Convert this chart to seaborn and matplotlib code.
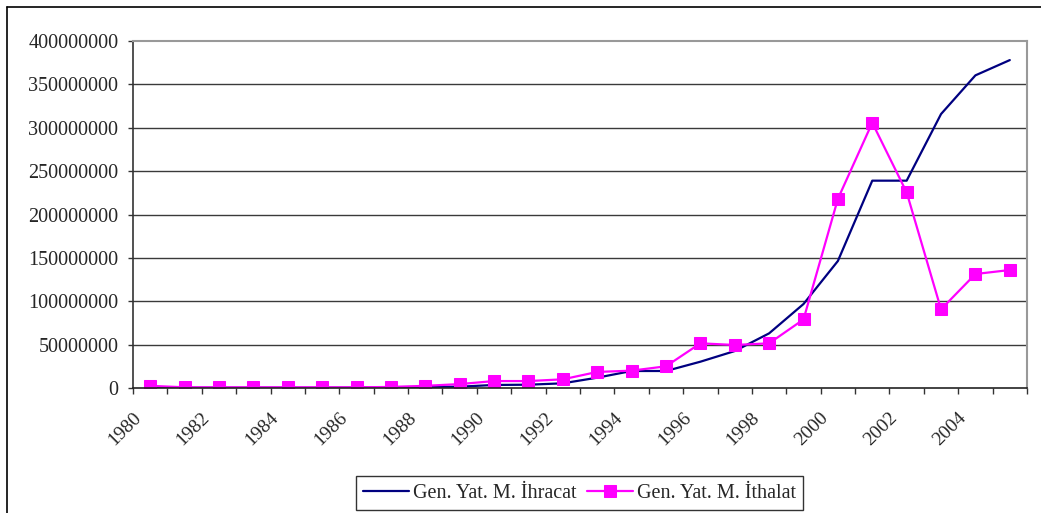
import pandas as pd
import seaborn as sns
import matplotlib.pyplot as plt
import matplotlib.transforms as mtransforms
from matplotlib.lines import Line2D


years = list(range(1980, 2006))

# Gen. Yat. M. exports (blue line)
ihracat = [0.5e6, 0.3e6, 0.3e6, 0.3e6, 0.3e6, 0.3e6, 0.4e6, 1.0e6, 1.2e6, 1.5e6,
           3.5e6, 3.8e6, 5.4e6, 11.9e6, 19.6e6, 19.6e6, 30.3e6, 42.6e6, 63e6, 96.8e6,
           146.4e6, 239e6, 239e6, 315.8e6, 360.4e6, 378e6]

# Gen. Yat. M. imports (magenta squares)
ithalat = [2.5e6, 0.8e6, 0.8e6, 0.8e6, 0.8e6, 0.8e6, 0.8e6, 1.2e6, 2.5e6, 4.5e6,
           8e6, 8e6, 10e6, 18.5e6, 20e6, 25e6, 51.5e6, 49.6e6, 51.5e6, 79e6,
           218e6, 305.8e6, 225.5e6, 90.7e6, 131.4e6, 136e6]

label_ihr = 'Gen. Yat. M. İhracat'
label_ith = 'Gen. Yat. M. İthalat'

sns.set_style('white')
plt.rcParams['font.family'] = ['Liberation Serif', 'DejaVu Serif']
FS = 14.5

fig = plt.figure(figsize=(10.41, 5.13), dpi=100)
ax = fig.add_axes([133 / 1041, 1 - 388 / 513, (1027 - 133) / 1041, (388 - 41) / 513])

df = pd.DataFrame({'year': years, 'ihracat': ihracat, 'ithalat': ithalat})

sns.lineplot(data=df, x='year', y='ihracat', ax=ax, color='#000080', linewidth=1.6,
             label=label_ihr)
sns.lineplot(data=df, x='year', y='ithalat', ax=ax, color='#FF00FF', linewidth=1.6,
             marker='s', markersize=9, markeredgecolor='#FF00FF', label=label_ith)

ax.set_xlim(1979.5, 2005.5)
ax.set_ylim(0, 400e6)
ax.set_xlabel('')
ax.set_ylabel('')

# horizontal gridlines
ax.set_yticks(range(0, 400000001, 50000000))
ax.set_yticklabels([str(v) for v in range(0, 400000001, 50000000)], fontsize=FS)
for v in range(50000000, 400000000, 50000000):
    ax.axhline(v, color='#3a3a3a', linewidth=1, zorder=0)
ax.tick_params(axis='y', direction='out', length=3.6, width=1, color='#333333', pad=7, left=True)

# category axis: labels at centers of even years, ticks at boundaries
ax.set_xticks([y for y in years if y % 2 == 0])
ax.set_xticklabels([str(y) for y in years if y % 2 == 0], rotation=45, ha='right',
                   va='top', rotation_mode='anchor', fontsize=14)
ax.set_xticks([y + 0.5 for y in range(1979, 2006)], minor=True)
ax.tick_params(axis='x', which='major', length=0, pad=15)
ax.tick_params(axis='x', which='minor', direction='out', length=4, width=1,
               color='#333333', bottom=True)
shift = mtransforms.ScaledTranslation(-18 / 100, 0, fig.dpi_scale_trans)
for lab in ax.get_xticklabels():
    lab.set_transform(lab.get_transform() + shift)

for side in ['top', 'right']:
    ax.spines[side].set_color('#999999')
    ax.spines[side].set_linewidth(1.5)
ax.spines['left'].set_color('#333333')
ax.spines['bottom'].set_color('#222222')
ax.spines['left'].set_linewidth(1.2)
ax.spines['bottom'].set_linewidth(1.2)

leg = ax.legend(loc='center', bbox_to_anchor=(579.5 / 1041, 1 - 493 / 513),
                bbox_transform=fig.transFigure, ncol=2, frameon=True, fancybox=False,
                fontsize=FS, handlelength=2.3, handletextpad=0.2, columnspacing=0.5,
                borderpad=0.35, borderaxespad=0)
leg.get_frame().set_edgecolor('black')
leg.get_frame().set_linewidth(1)

# outer chart frame (cut off at right and bottom)
fig.add_artist(Line2D([7 / 1041, 7 / 1041], [0, 1 - 7 / 513], color='black', linewidth=1.2,
                      transform=fig.transFigure))
fig.add_artist(Line2D([7 / 1041, 1], [1 - 7 / 513, 1 - 7 / 513], color='black', linewidth=1.2,
                      transform=fig.transFigure))

fig.savefig('out.png', dpi=100)
